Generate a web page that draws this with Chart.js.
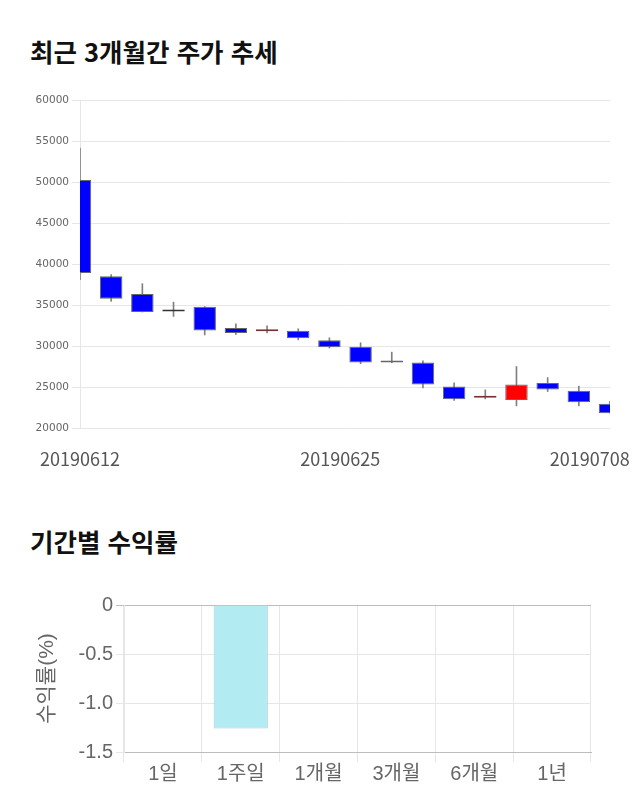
<!DOCTYPE html>
<html lang="ko">
<head>
<meta charset="UTF-8">
<title>최근 3개월간 주가 추세</title>
<script src="https://cdn.jsdelivr.net/npm/chart.js"></script>
<style>
    body { margin: 0; background: #fff; width: 640px; height: 810px; position: relative; overflow: hidden; }
    .title { position: absolute; left: 30px; margin: 0; font: bold 25.5px/26px "Noto Sans CJK KR", sans-serif; color: #111; }
    canvas { position: absolute; left: 0; }
</style>
</head>
<body>
<h2 class="title" style="top:38px">최근 3개월간 주가 추세</h2>
<canvas id="priceChart" width="640" height="400" style="top:85px"></canvas>
<h2 class="title" style="top:528px">기간별 수익률</h2>
<canvas id="returnChart" width="640" height="225" style="top:585px"></canvas>

<script>
    // daily candles (won)
    const open  = [50250, 38500, 36350, 34200, 34800, 32200, 31800, 31850, 30700, 29900, 28200, 28000, 25050, 23700, 23400, 25500, 24550, 22950];
    const close = [38900, 35750, 34150, 34200, 31900, 31600, 31850, 30950, 29850, 28000, 28000, 25300, 23500, 23750, 25300, 24700, 23150, 21800];
    const high  = [54150, 38700, 37600, 35350, 34800, 32700, 32450, 32100, 31000, 30400, 29250, 28200, 25500, 24650, 27500, 26150, 25100, 23250];
    const low   = [38100, 35450, 34150, 33600, 31350, 31400, 31600, 30750, 29750, 27850, 27950, 24900, 23350, 23550, 22700, 24450, 22700, 21800];
    const tickLabels = ['20190612', '20190625', '20190708'];
    const tickPos = [0, 8.35, 16.35];

    // period returns (%)
    const periods = ['1일', '1주일', '1개월', '3개월', '6개월', '1년'];
    const returns = [0, -1.26, 0, 0, 0, 0];

    // red = up, blue = down; very thin bodies get a darker outline so they read as a line
    const bodyColor = open.map((o, i) => close[i] > o ? '#ff0000' : close[i] < o ? '#0000ff' : '#333333');
    const edgeColor = open.map((o, i) => {
        if (Math.abs(close[i] - o) >= 150) return '#666666';
        return close[i] > o ? '#7a3030' : close[i] < o ? '#1a1a8c' : '#333333';
    });

    new Chart(document.getElementById('priceChart'), {
        type: 'bar',
        data: {
            datasets: [{
                data: open.map((o, i) => ({ x: i, y: [o, close[i]] })),
                backgroundColor: bodyColor,
                borderColor: edgeColor,
                borderWidth: 1,
                borderSkipped: false,
                minBarLength: 2,
                grouped: false,
                order: 0
            }, {
                data: low.map((l, i) => ({ x: i, y: [l, high[i]] })),
                backgroundColor: '#808080',
                barThickness: 1,
                grouped: false,
                order: 1
            }]
        },
        options: {
            responsive: false,
            animation: false,
            events: [],
            layout: { padding: { left: 30, right: 30, top: 15, bottom: 0 } },
            plugins: { legend: { display: false }, tooltip: { enabled: false } },
            scales: {
                x: {
                    type: 'linear',
                    min: 0,
                    max: open.length - 1,
                    offset: false,
                    grid: { display: false },
                    border: { display: false },
                    afterBuildTicks: axis => { axis.ticks = tickPos.map(v => ({ value: v })); },
                    afterFit: axis => {
                        axis.height = 57;
                        axis.paddingLeft = 0;
                        axis.paddingRight = 0;
                    },
                    ticks: {
                        autoSkip: false,
                        maxRotation: 0,
                        padding: 12,
                        color: '#555',
                        font: { family: '"Noto Sans CJK KR", sans-serif', size: 18 },
                        callback: (v, i) => tickLabels[i]
                    }
                },
                y: {
                    min: 20000,
                    max: 60000,
                    grid: { color: '#e6e6e6', tickLength: 8 },
                    border: { color: '#e6e6e6' },
                    afterFit: axis => { axis.width = 50; },
                    ticks: {
                        stepSize: 5000,
                        padding: 3,
                        color: '#666',
                        font: { family: '"DejaVu Sans", sans-serif', size: 10.5 },
                        callback: v => String(v)
                    }
                }
            }
        }
    });

    new Chart(document.getElementById('returnChart'), {
        type: 'bar',
        data: {
            labels: periods,
            datasets: [{
                data: returns,
                backgroundColor: '#b2ebf2',
                borderColor: '#9fd3db',
                borderWidth: 1,
                categoryPercentage: 0.8,
                barPercentage: 0.87
            }]
        },
        options: {
            responsive: false,
            animation: false,
            events: [],
            layout: { padding: { left: 30, right: 49, top: 20, bottom: 0 } },
            plugins: { legend: { display: false }, tooltip: { enabled: false } },
            scales: {
                x: {
                    grid: {
                        color: c => c.index === periods.length ? 'rgba(0,0,0,0)' : '#e6e6e6',
                        tickLength: 10
                    },
                    border: { color: '#bdbdbd' },
                    afterFit: axis => { axis.height = 58; },
                    ticks: {
                        padding: 0,
                        color: '#666',
                        font: { family: '"Liberation Sans", Arial, "Noto Sans CJK KR", sans-serif', size: 20 }
                    }
                },
                y: {
                    min: -1.5,
                    max: 0,
                    grid: {
                        color: c => c.tick && c.tick.value === 0 ? '#bdbdbd' : '#e6e6e6',
                        tickLength: 8
                    },
                    border: { color: '#e6e6e6' },
                    afterFit: axis => { axis.width = 94; },
                    title: {
                        display: true,
                        text: '수익률(%)',
                        color: '#666',
                        padding: { top: 5, bottom: 4 },
                        font: { family: '"Liberation Sans", Arial, "Noto Sans CJK KR", sans-serif', size: 21 }
                    },
                    ticks: {
                        stepSize: 0.5,
                        padding: 3,
                        color: '#666',
                        font: { family: '"Liberation Sans", Arial, sans-serif', size: 20 },
                        callback: v => v === 0 ? '0' : v.toFixed(1)
                    }
                }
            }
        }
    });
</script>
</body>
</html>
